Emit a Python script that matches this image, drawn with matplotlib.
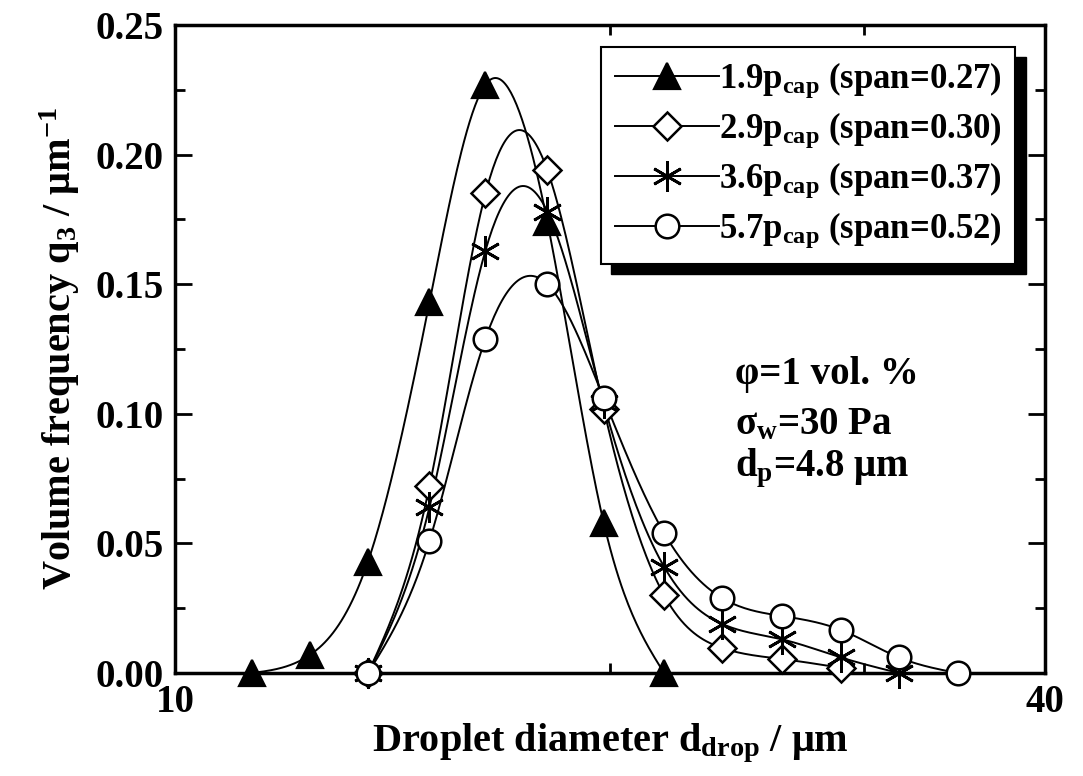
import numpy as np
import matplotlib
matplotlib.use('Agg')
import matplotlib.pyplot as plt
from matplotlib.lines import Line2D
from matplotlib.patches import Rectangle

plt.rcParams['font.family'] = 'Liberation Serif'
plt.rcParams['font.weight'] = 'bold'
plt.rcParams['axes.labelweight'] = 'bold'
plt.rcParams['mathtext.fontset'] = 'custom'
plt.rcParams['mathtext.rm'] = 'Liberation Serif:bold'
plt.rcParams['mathtext.it'] = 'Liberation Serif:bold'
plt.rcParams['mathtext.bf'] = 'Liberation Serif:bold'

# droplet diameters (um) and volume frequencies q3 (1/um)
d_19 = [11.3, 12.4, 13.6, 15.0, 16.4, 18.1, 19.8, 21.8]
q_19 = [0.0, 0.007, 0.043, 0.143, 0.227, 0.174, 0.058, 0.0]

d_29 = [13.6, 15.0, 16.4, 18.1, 19.8, 21.8, 23.9, 26.3, 28.9]
q_29 = [0.0, 0.072, 0.185, 0.194, 0.102, 0.030, 0.0097, 0.0054, 0.002]

d_36 = [13.6, 15.0, 16.4, 18.1, 19.8, 21.8, 23.9, 26.3, 28.9, 31.7]
q_36 = [0.0, 0.064, 0.163, 0.178, 0.104, 0.041, 0.019, 0.013, 0.006, 0.0]

d_57 = [13.6, 15.0, 16.4, 18.1, 19.8, 21.8, 23.9, 26.3, 28.9, 31.7, 34.8]
q_57 = [0.0, 0.051, 0.129, 0.150, 0.106, 0.054, 0.029, 0.022, 0.0166, 0.006, 0.0]

labels = ['1.9p$_{cap}$ (span=0.27)', '2.9p$_{cap}$ (span=0.30)',
          '3.6p$_{cap}$ (span=0.37)', '5.7p$_{cap}$ (span=0.52)']


def spline(x, y, n=300):
    # natural cubic spline in log(x), like the smoothed lines of the original
    x = np.log10(x)
    y = np.asarray(y, float)
    k = len(x)
    h = np.diff(x)
    A = np.zeros((k, k))
    b = np.zeros(k)
    A[0, 0] = A[-1, -1] = 1
    for i in range(1, k - 1):
        A[i, i - 1] = h[i - 1]
        A[i, i] = 2 * (h[i - 1] + h[i])
        A[i, i + 1] = h[i]
        b[i] = 6 * ((y[i + 1] - y[i]) / h[i] - (y[i] - y[i - 1]) / h[i - 1])
    M = np.linalg.solve(A, b)
    xs = np.linspace(x[0], x[-1], n)
    j = np.clip(np.searchsorted(x, xs) - 1, 0, k - 2)
    hj = h[j]
    t1 = x[j + 1] - xs
    t0 = xs - x[j]
    ys = (M[j] * t1 ** 3 + M[j + 1] * t0 ** 3) / (6 * hj) \
        + (y[j] / hj - M[j] * hj / 6) * t1 + (y[j + 1] / hj - M[j + 1] * hj / 6) * t0
    return 10 ** xs, ys


fig = plt.figure(figsize=(10.83, 7.76), dpi=100)
ax = fig.add_axes([0.1616, 0.1327, 0.8033, 0.8351])

styles = [
    dict(marker='^', mfc='k', ms=19, mew=1.6),
    dict(marker='D', mfc='w', ms=14, mew=1.8),
    dict(marker=(6, 2, 0), mfc='k', ms=22, mew=2.0),
    dict(marker='o', mfc='w', ms=17, mew=1.8),
]
series = [(d_19, q_19), (d_29, q_29), (d_36, q_36), (d_57, q_57)]

handles = []
for (d, q), st, lab in zip(series, styles, labels):
    xs, ys = spline(d, q)
    ax.plot(xs, ys, color='k', lw=1.4, zorder=2)
    ax.plot(d, q, ls='none', mec='k', zorder=3, clip_on=False, **st)
    handles.append(Line2D([], [], color='k', lw=1.4, mec='k', **st))

ax.set_xscale('log')
ax.set_xlim(10, 40)
ax.set_ylim(0, 0.25)
ax.set_xticks([10, 40])
ax.set_xticklabels(['10', '40'])
ax.set_xticks([20, 30], minor=True)
ax.set_xticklabels([], minor=True)
ax.set_yticks(np.arange(0, 0.251, 0.05))
ax.set_yticklabels(['%.2f' % v for v in np.arange(0, 0.251, 0.05)])
ax.set_yticks(np.arange(0.025, 0.25, 0.05), minor=True)

ax.tick_params(which='both', direction='in', top=True, right=True, width=2, labelsize=28)
ax.tick_params(which='major', length=12, pad=8)
ax.tick_params(which='minor', length=7)
for s in ax.spines.values():
    s.set_linewidth(2.5)

ax.set_xlabel('Droplet diameter d$_{drop}$ / \u03bcm', fontsize=29, labelpad=0)
ax.set_ylabel('Volume frequency q$_3$ / \u03bcm$^{-1}$', fontsize=29, labelpad=10)

ax.text(0.644, 0.46, '\u03c6=1 vol. %', transform=ax.transAxes, fontsize=28, va='center')
ax.text(0.644, 0.383, '\u03c3$_w$=30 Pa', transform=ax.transAxes, fontsize=28, va='center')
ax.text(0.644, 0.316, 'd$_p$=4.8 \u03bcm', transform=ax.transAxes, fontsize=28, va='center')

leg = ax.legend(handles, labels, loc='upper right', bbox_to_anchor=(0.966, 0.966),
                fontsize=25, frameon=True, fancybox=False, framealpha=1, handlelength=3.0,
                handletextpad=0.0, labelspacing=0.3, borderpad=0.4, borderaxespad=0)
leg.get_frame().set_edgecolor('k')
leg.get_frame().set_facecolor('w')
leg.get_frame().set_linewidth(1.5)
leg.set_zorder(6)

fig.canvas.draw()
bb = leg.get_window_extent().transformed(ax.transAxes.inverted())
ax.add_patch(Rectangle((bb.x0 + 0.012, bb.y0 - 0.016), bb.width, bb.height,
                       transform=ax.transAxes, color='k', zorder=5, clip_on=False))

fig.savefig('out.png', dpi=100)
